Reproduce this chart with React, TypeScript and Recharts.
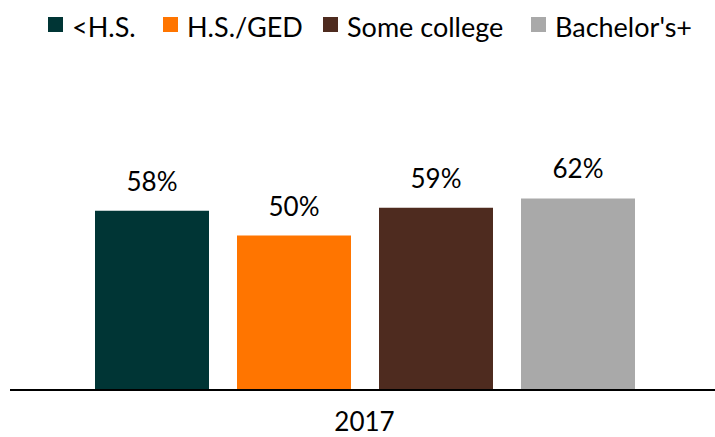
import React from 'react';
import { BarChart, Bar, XAxis, YAxis, LabelList } from 'recharts';

const years = ['2017'];
const lessHS = [58];
const hsGed = [50];
const someCollege = [59];
const bachelors = [62];
const seriesNames = ['<H.S.', 'H.S./GED', 'Some college', "Bachelor's+"];
const seriesKeys = ['lessHS', 'hsGed', 'someCollege', 'bachelors'];

const COLORS = ['#003535', '#FF7500', '#4E2B1F', '#A9A9A9'];
const FONT = 'Lato, "Open Sans", sans-serif';

const data = years.map((year, i) => ({
    name: year,
    lessHS: lessHS[i],
    hsGed: hsGed[i],
    someCollege: someCollege[i],
    bachelors: bachelors[i],
}));

// legend item left edges
const legendX = [48, 163, 323, 531];

const TopLegend = () => (
    <div style={{ position: 'absolute', left: 0, top: 0, width: 715, height: 50 }}>
        {seriesNames.map((name, i) => (
            <div
                key={name}
                style={{
                    position: 'absolute',
                    left: legendX[i],
                    top: 17,
                    display: 'flex',
                    alignItems: 'center',
                    height: 15,
                    whiteSpace: 'nowrap',
                }}
            >
                <span style={{ display: 'inline-block', width: 15, height: 15, background: COLORS[i], marginRight: 9 }} />
                <span style={{ fontFamily: FONT, fontSize: 27, color: '#000', lineHeight: '15px', position: 'relative', top: 2 }}>{name}</span>
            </div>
        ))}
    </div>
);

// eslint-disable-next-line @typescript-eslint/no-explicit-any
const YearTick = (props: any) => {
    const { x, y, payload } = props;
    return (
        <text x={x} y={y + 39} textAnchor="middle" fill="#000" fontSize={26} fontFamily={FONT}>
            {payload.value}
        </text>
    );
};

const App: React.FC = () => {
    return (
        <div style={{ position: 'absolute', left: 0, top: 0, width: 715, height: 437, background: '#fff' }}>
            <TopLegend />
            <BarChart
                width={715}
                height={437}
                data={data}
                margin={{ top: 81, right: -4, left: 10, bottom: 0 }}
                barSize={114}
                barGap={28}
            >
                <XAxis
                    dataKey="name"
                    height={47}
                    axisLine={{ stroke: '#000', strokeWidth: 2 }}
                    tickLine={false}
                    tickSize={0}
                    tick={<YearTick />}
                />
                <YAxis hide domain={[0, 100]} />
                {seriesKeys.map((key, i) => (
                    <Bar key={key} dataKey={key} name={seriesNames[i]} fill={COLORS[i]} isAnimationActive={false}>
                        <LabelList
                            dataKey={key}
                            position="top"
                            offset={20}
                            formatter={(v: number) => `${v}%`}
                            fill="#000"
                            fontSize={26}
                            fontFamily={FONT}
                        />
                    </Bar>
                ))}
            </BarChart>
        </div>
    );
};

export default App;
